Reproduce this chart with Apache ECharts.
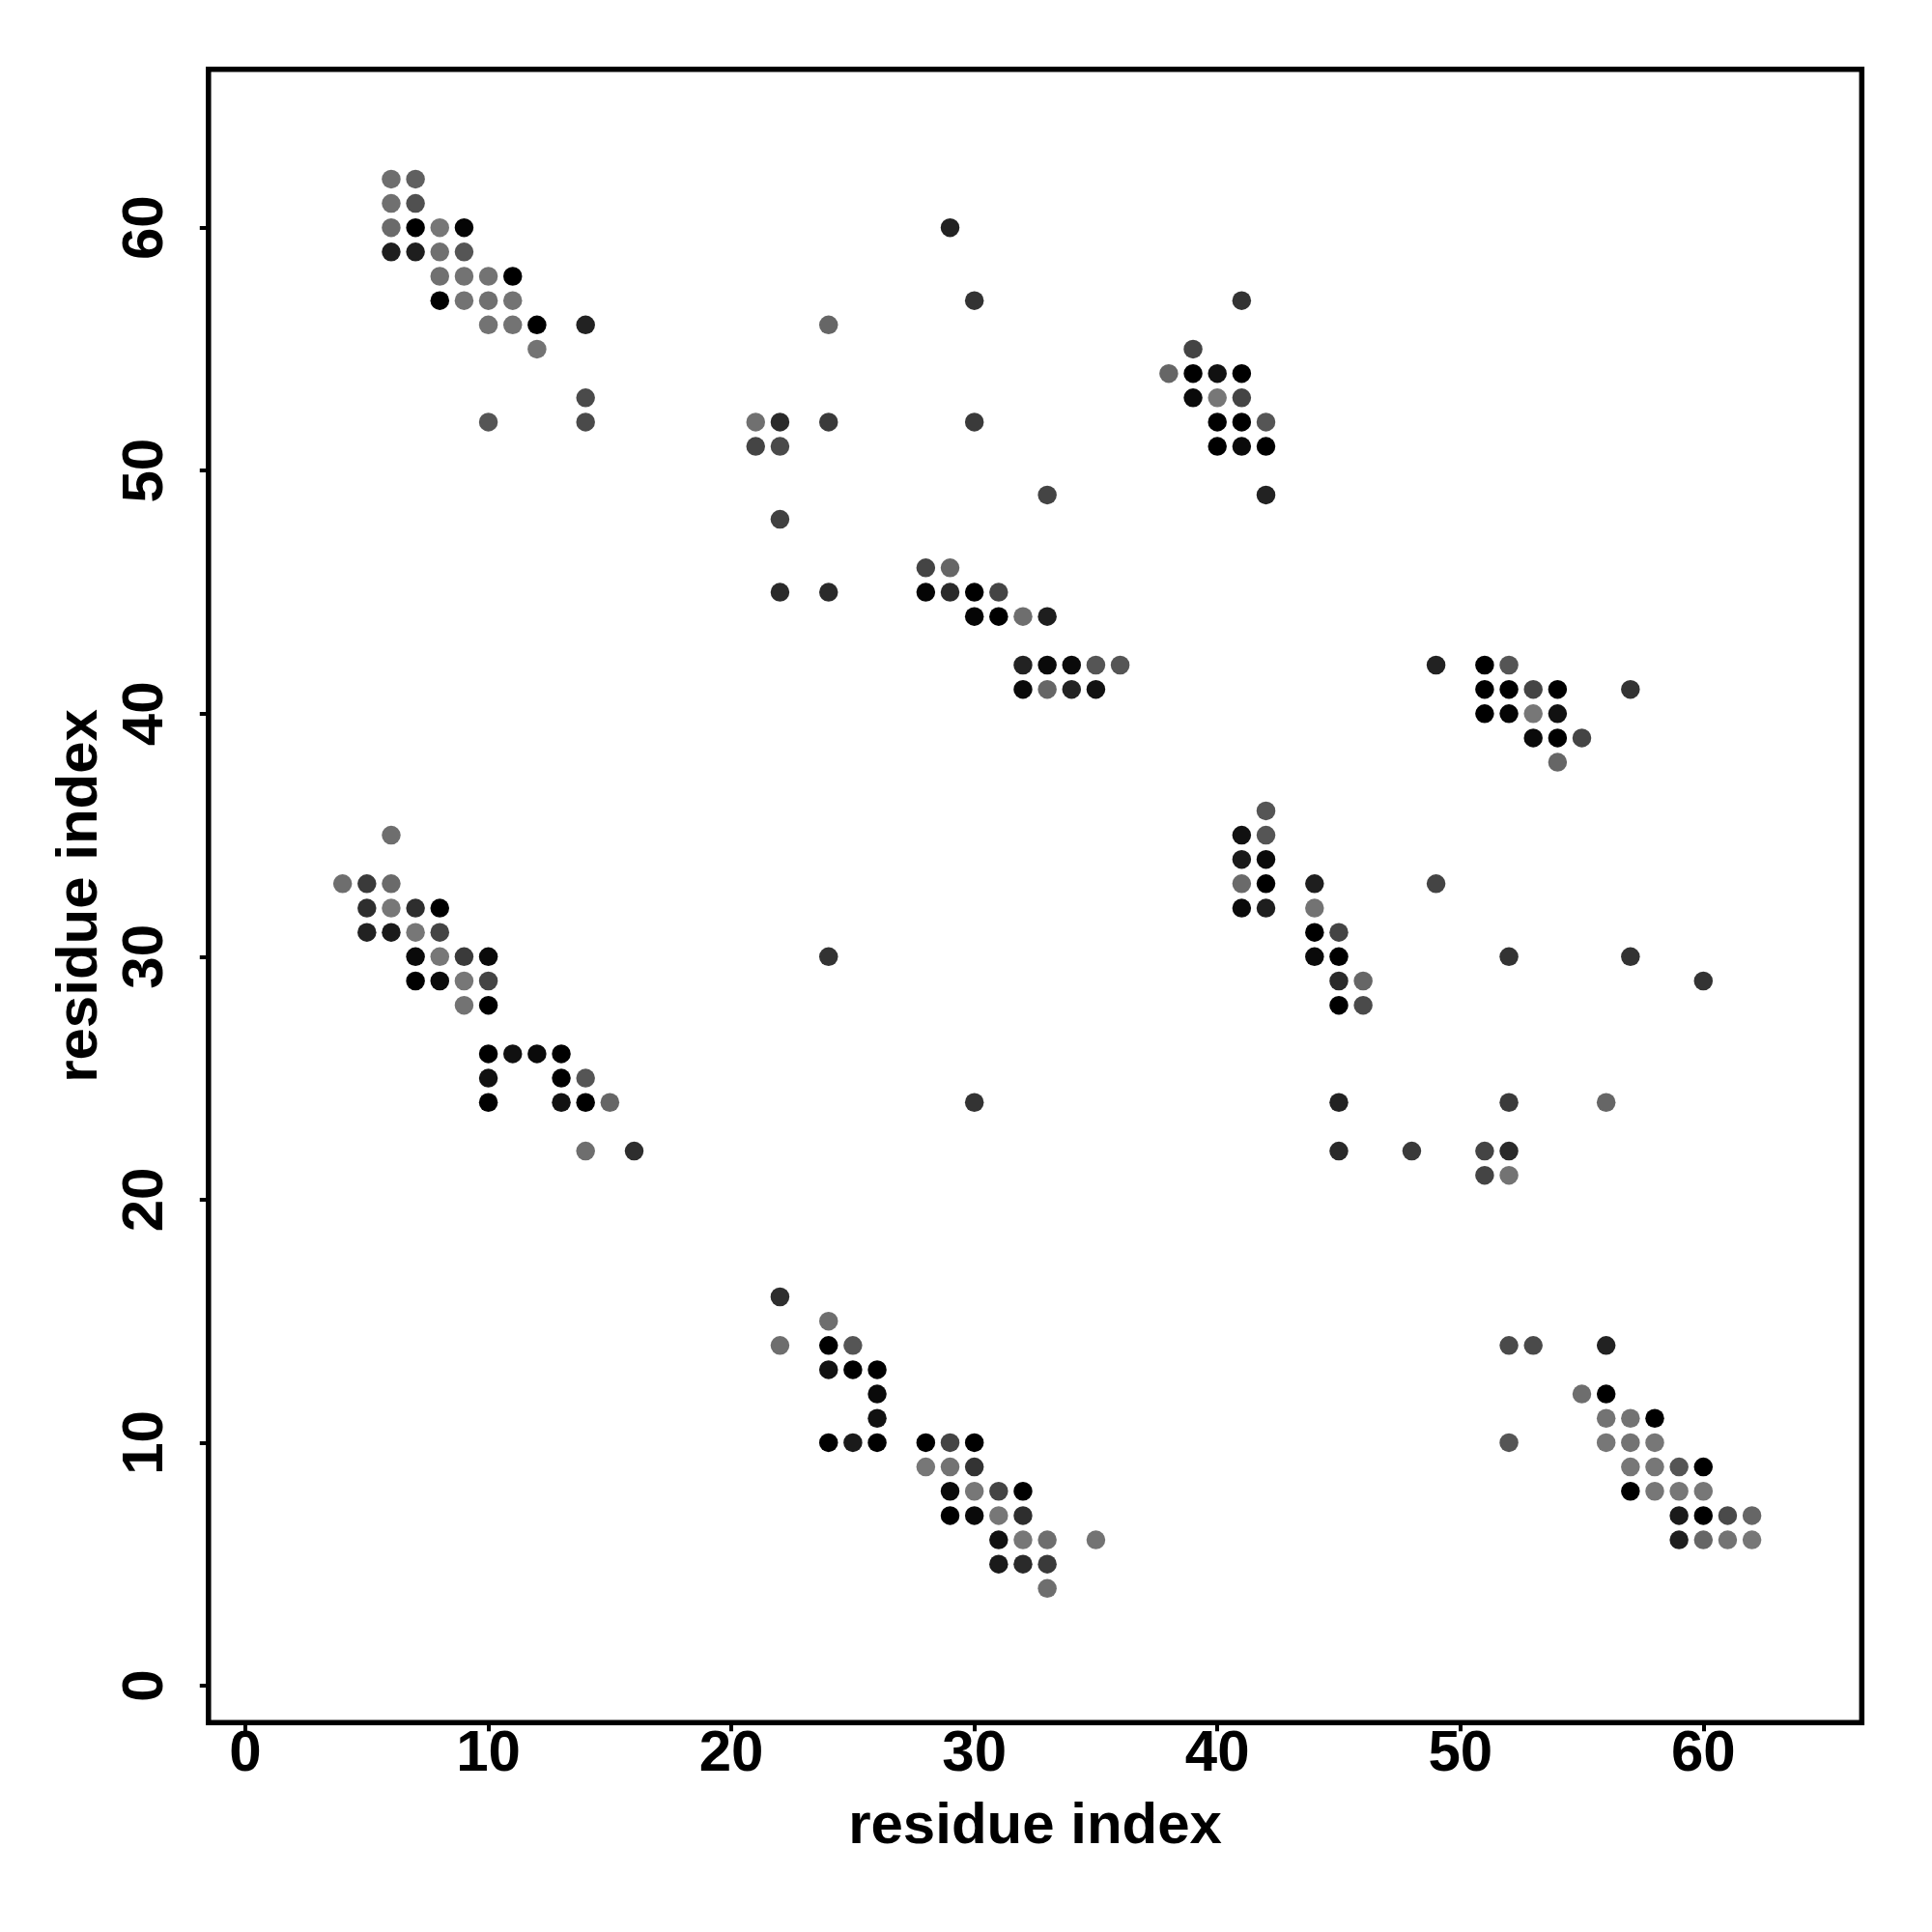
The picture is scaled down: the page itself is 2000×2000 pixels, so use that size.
<!DOCTYPE html>
<html>
<head>
<meta charset="utf-8">
<script src="https://cdn.jsdelivr.net/npm/echarts@6/dist/echarts.min.js"></script>
<style>
html,body{margin:0;padding:0;background:#fff;}
#chart{width:2000px;height:2000px;}
</style>
</head>
<body>
<div id="chart"></div>
<script>
// Each contact: [residue i (x), residue j (y), grey level 0..255]
var tickValues = [0, 10, 20, 30, 40, 50, 60];
var axisTitle = 'residue index';

var clusterTopLeft = [
  [6,62,0x6e],[7,62,0x60],
  [6,61,0x70],[7,61,0x50],
  [6,60,0x6a],[7,60,0x00],[8,60,0x77],[9,60,0x05],
  [6,59,0x1e],[7,59,0x1e],[8,59,0x70],[9,59,0x55],
  [8,58,0x70],[9,58,0x73],[10,58,0x73],[11,58,0x00],
  [8,57,0x00],[9,57,0x73],[10,57,0x70],[11,57,0x73],
  [10,56,0x73],[11,56,0x73],[12,56,0x00],[14,56,0x22],
  [12,55,0x73],
  [14,53,0x4a],
  [10,52,0x55],[14,52,0x4a]
];

var clusterMidLeft = [
  [6,35,0x6e],
  [4,33,0x6e],[5,33,0x3a],[6,33,0x6a],
  [5,32,0x2e],[6,32,0x77],[7,32,0x2e],[8,32,0x00],
  [5,31,0x22],[6,31,0x1a],[7,31,0x77],[8,31,0x44],
  [7,30,0x0a],[8,30,0x77],[9,30,0x3a],[10,30,0x0a],
  [7,29,0x00],[8,29,0x0a],[9,29,0x77],[10,29,0x44],
  [9,28,0x73],[10,28,0x00],
  [10,26,0x00],[11,26,0x11],[12,26,0x0a],[13,26,0x00],
  [10,25,0x11],[13,25,0x00],[14,25,0x55],
  [10,24,0x00],[13,24,0x11],[14,24,0x00],[15,24,0x66],
  [14,22,0x6e],[16,22,0x2e]
];

var clusterMidTop = [
  [29,60,0x22],[30,57,0x33],[24,56,0x66],
  [21,52,0x70],[22,52,0x2a],[24,52,0x3a],[30,52,0x3a],
  [21,51,0x44],[22,51,0x4a],
  [33,49,0x44],[22,48,0x40],
  [28,46,0x44],[29,46,0x66],
  [22,45,0x2a],[24,45,0x2a],[28,45,0x05],[29,45,0x2a],[30,45,0x00],[31,45,0x44],
  [30,44,0x05],[31,44,0x00],[32,44,0x6e],[33,44,0x1e],
  [32,42,0x22],[33,42,0x0a],[34,42,0x0a],[35,42,0x55],[36,42,0x55],
  [32,41,0x0a],[33,41,0x66],[34,41,0x22],[35,41,0x11]
];

var clusterTopRight = [
  [41,57,0x33],[39,55,0x44],
  [38,54,0x66],[39,54,0x00],[40,54,0x11],[41,54,0x00],
  [39,53,0x0a],[40,53,0x77],[41,53,0x44],
  [40,52,0x00],[41,52,0x00],[42,52,0x55],
  [40,51,0x00],[41,51,0x0a],[42,51,0x00],
  [42,49,0x22]
];

var clusterRight = [
  [49,42,0x22],[51,42,0x00],[52,42,0x55],
  [51,41,0x00],[52,41,0x00],[53,41,0x44],[54,41,0x00],[57,41,0x33],
  [51,40,0x00],[52,40,0x05],[53,40,0x77],[54,40,0x11],
  [53,39,0x0a],[54,39,0x00],[55,39,0x44],
  [54,38,0x66]
];

var clusterMidRight = [
  [42,36,0x55],
  [41,35,0x11],[42,35,0x55],
  [41,34,0x1a],[42,34,0x0a],
  [41,33,0x6a],[42,33,0x00],[44,33,0x1e],[49,33,0x44],
  [41,32,0x0a],[42,32,0x1e],[44,32,0x73],
  [44,31,0x00],[45,31,0x44],
  [44,30,0x0a],[45,30,0x00],[52,30,0x33],[57,30,0x33],
  [45,29,0x2a],[46,29,0x66],[60,29,0x33],
  [45,28,0x00],[46,28,0x4a],
  [45,24,0x22],[52,24,0x3a],[56,24,0x66],
  [45,22,0x2a],[48,22,0x3a],[51,22,0x44],[52,22,0x2a],
  [51,21,0x44],[52,21,0x73]
];

var clusterScattered = [
  [24,30,0x33],[30,24,0x33]
];

var clusterBottomMid = [
  [22,16,0x2e],
  [24,15,0x6e],
  [22,14,0x6e],[24,14,0x00],[25,14,0x55],
  [24,13,0x11],[25,13,0x00],[26,13,0x00],
  [26,12,0x0a],
  [26,11,0x11],
  [24,10,0x00],[25,10,0x1a],[26,10,0x00],[28,10,0x00],[29,10,0x44],[30,10,0x00],
  [28,9,0x77],[29,9,0x73],[30,9,0x33],
  [29,8,0x0a],[30,8,0x77],[31,8,0x44],[32,8,0x00],
  [29,7,0x00],[30,7,0x0a],[31,7,0x77],[32,7,0x2e],
  [31,6,0x11],[32,6,0x77],[33,6,0x6e],[35,6,0x73],
  [31,5,0x1a],[32,5,0x2a],[33,5,0x3a],
  [33,4,0x6e]
];

var clusterBottomRight = [
  [52,14,0x4a],[53,14,0x4a],[56,14,0x22],
  [55,12,0x6e],[56,12,0x00],
  [56,11,0x73],[57,11,0x73],[58,11,0x00],
  [52,10,0x55],[56,10,0x77],[57,10,0x73],[58,10,0x77],
  [57,9,0x77],[58,9,0x77],[59,9,0x55],[60,9,0x00],
  [57,8,0x00],[58,8,0x77],[59,8,0x77],[60,8,0x77],
  [59,7,0x1a],[60,7,0x00],[61,7,0x4a],[62,7,0x66],
  [59,6,0x1e],[60,6,0x66],[61,6,0x73],[62,6,0x77]
];

var allContacts = [].concat(clusterTopLeft, clusterMidLeft, clusterMidTop, clusterTopRight,
  clusterRight, clusterMidRight, clusterScattered, clusterBottomMid, clusterBottomRight);

function grey(v) { return 'rgb(' + v + ',' + v + ',' + v + ')'; }

var FONT = "'Liberation Sans', Arial, Helvetica, sans-serif";
var chart = echarts.init(document.getElementById('chart'), null, {renderer: 'canvas'});
chart.setOption({
  animation: false,
  backgroundColor: '#ffffff',
  grid: {
    left: 215.8, top: 71.7, width: 1711.5, height: 1711.5,
    show: true, borderColor: '#000', borderWidth: 5.5, backgroundColor: 'transparent',
    containLabel: false
  },
  xAxis: {
    type: 'value', min: -1.52, max: 66.52,
    name: axisTitle, nameLocation: 'middle', nameGap: 78,
    nameTextStyle: {fontSize: 60, fontWeight: 'bold', fontFamily: FONT, color: '#000'},
    axisLine: {show: false, onZero: false},
    splitLine: {show: false},
    axisTick: {show: true, length: 9, customValues: tickValues, lineStyle: {color: '#000', width: 4}},
    axisLabel: {show: true, customValues: tickValues, margin: 3, fontSize: 60, fontWeight: 'bold', fontFamily: FONT, color: '#000'}
  },
  yAxis: {
    type: 'value', min: -1.52, max: 66.52,
    name: axisTitle, nameLocation: 'middle', nameGap: 101,
    nameTextStyle: {fontSize: 60, fontWeight: 'bold', fontFamily: FONT, color: '#000'},
    axisLine: {show: false, onZero: false},
    splitLine: {show: false},
    axisTick: {show: true, length: 9, customValues: tickValues, lineStyle: {color: '#000', width: 4}},
    axisLabel: {show: true, customValues: tickValues, rotate: 90, margin: 34, fontSize: 60, fontWeight: 'bold', fontFamily: FONT, color: '#000'}
  },
  series: [{
    type: 'scatter',
    data: allContacts,
    symbol: 'circle',
    symbolSize: 19.5,
    itemStyle: {
      color: function (p) { return grey(p.data[2]); },
      opacity: 1
    }
  }]
});
</script>
</body>
</html>
